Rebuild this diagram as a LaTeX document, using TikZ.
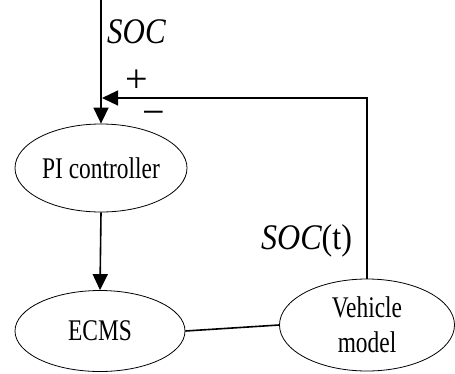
\documentclass[tikz,border=0pt]{standalone}
\usepackage{fontspec}
\setmainfont{Liberation Serif}
\usepackage{tikz}
\usetikzlibrary{arrows.meta,shapes.geometric,positioning}

% narrow, tall lettering as in the figure
\newcommand{\squeeze}[1]{\scalebox{0.78}[1]{#1}}

\tikzset{
    block/.style={draw, ellipse, line width=0.8pt, inner sep=0pt, font=\fontsize{30}{35}\selectfont},
    sig/.style={line width=1.6pt},
    sign/.style={inner sep=0pt, anchor=base, font=\fontsize{40}{44}\selectfont},
    lbl/.style={inner sep=0pt, anchor=base west, font=\fontsize{36}{40}\selectfont\itshape}
}

\begin{document}
\begin{tikzpicture}[x=1pt,y=-1pt,>={Triangle[length=16pt,width=15pt]}]
    \useasboundingbox (0,0) rectangle (455,373);
    \node[block, minimum width=172pt, minimum height=88pt] (pi) at (101,168) {\squeeze{PI controller}};
    \node[block, minimum width=170pt, minimum height=81pt] (ecms) at (100,331) {\squeeze{ECMS}};
    \node[block, minimum width=175pt, minimum height=92pt, align=center] (veh) at (367,325)
        {\squeeze{Vehicle}\\\squeeze{model}};
    \coordinate (in) at (101,0);
    \coordinate (sum) at (102,98);
    \draw[sig,->] (in) -- (pi.north);
    \draw[sig,->] (pi.south) -- (ecms.north);
    \draw[sig] (ecms.east) -- (veh.west);
    \draw[line width=1.2pt,->] (veh.north) |- (sum);
    \node[lbl] (soc) at (107,43) {\scalebox{0.86}[1]{SOC}};
    \node[sign] (plus) at (136.5,92) {+};
    \node[sign] (minus) at (153.5,125) {−};
    \node[lbl] (soct) at (261,249) {\scalebox{0.89}[1]{SOC\upshape(t)}};
\end{tikzpicture}
\end{document}
